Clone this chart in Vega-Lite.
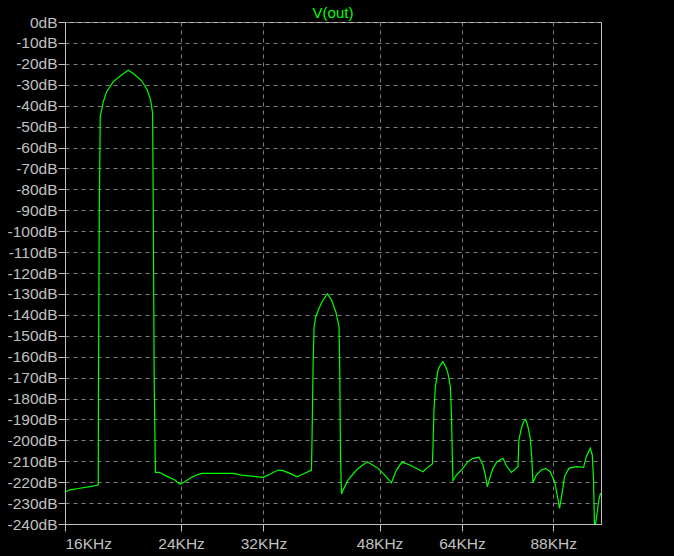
{
  "$schema": "https://vega.github.io/schema/vega-lite/v6.json",
  "width": 536,
  "height": 502,
  "autosize": {"type": "none"},
  "padding": {"left": 65, "top": 22, "right": 73, "bottom": 32},
  "background": "#000000",
  "title": {"text": "V(out)", "color": "#00ff00", "fontSize": 15, "font": "Liberation Sans", "fontWeight": "normal", "anchor": "middle", "frame": "group", "offset": 3, "dy": 9},
  "config": {
    "view": {"stroke": "#c0c0c0", "strokeWidth": 1},
    "axis": {
      "domainColor": "#c0c0c0",
      "tickColor": "#c0c0c0",
      "tickSize": 7,
      "labelColor": "#c0c0c0",
      "labelFont": "Liberation Sans",
      "labelFontSize": 15.5,
      "gridColor": "#808080",
      "gridDash": [4, 4],
      "gridWidth": 1,
      "title": null
    }
  },
  "data": {"values": [
    {"f": 16000, "db": -224.6}, {"f": 16282, "db": -223.7}, {"f": 16860, "db": -222.9}, {"f": 17458, "db": -222.1},
    {"f": 17971, "db": -221.4}, {"f": 17984, "db": -177.4}, {"f": 18034, "db": -90.4}, {"f": 18097, "db": -44.8},
    {"f": 18186, "db": -42.1}, {"f": 18288, "db": -38.1}, {"f": 18506, "db": -33.3}, {"f": 18937, "db": -28.5},
    {"f": 19500, "db": -25.3}, {"f": 19955, "db": -23.1}, {"f": 20355, "db": -24.9}, {"f": 20910, "db": -28.1},
    {"f": 21322, "db": -32.5}, {"f": 21577, "db": -37.3}, {"f": 21728, "db": -43.7}, {"f": 21773, "db": -87.5},
    {"f": 21849, "db": -172.7}, {"f": 21941, "db": -215.3}, {"f": 22234, "db": -215.3}, {"f": 22816, "db": -217.1},
    {"f": 23486, "db": -219.0}, {"f": 23900, "db": -221.0}, {"f": 24320, "db": -219.8}, {"f": 24895, "db": -217.7},
    {"f": 25334, "db": -216.6}, {"f": 25779, "db": -215.8}, {"f": 28784, "db": -215.8}, {"f": 29640, "db": -216.6},
    {"f": 30692, "db": -217.1}, {"f": 31960, "db": -217.7}, {"f": 32716, "db": -216.2}, {"f": 33678, "db": -214.2},
    {"f": 34271, "db": -214.5}, {"f": 35082, "db": -215.8}, {"f": 35987, "db": -217.4}, {"f": 36748, "db": -216.1},
    {"f": 37841, "db": -214.2}, {"f": 37920, "db": -197.5}, {"f": 38052, "db": -164.0}, {"f": 38185, "db": -145.7},
    {"f": 38413, "db": -140.9}, {"f": 38858, "db": -136.9}, {"f": 39404, "db": -132.9}, {"f": 40013, "db": -130.0},
    {"f": 40576, "db": -132.9}, {"f": 41189, "db": -138.5}, {"f": 41666, "db": -145.7}, {"f": 41768, "db": -167.2},
    {"f": 41870, "db": -206.1}, {"f": 42017, "db": -225.7}, {"f": 42252, "db": -223.8}, {"f": 42996, "db": -219.0},
    {"f": 44274, "db": -214.2}, {"f": 45941, "db": -210.2}, {"f": 47740, "db": -213.4}, {"f": 48869, "db": -216.6},
    {"f": 50025, "db": -220.3}, {"f": 50905, "db": -214.2}, {"f": 51909, "db": -210.4}, {"f": 53323, "db": -211.8},
    {"f": 55217, "db": -214.2}, {"f": 55856, "db": -215.0}, {"f": 56523, "db": -213.4}, {"f": 57718, "db": -211.3},
    {"f": 57840, "db": -203.0}, {"f": 58042, "db": -185.5}, {"f": 58326, "db": -174.4}, {"f": 58857, "db": -166.4},
    {"f": 59353, "db": -164.0}, {"f": 59893, "db": -162.4}, {"f": 60460, "db": -164.8}, {"f": 60947, "db": -168.0},
    {"f": 61460, "db": -174.4}, {"f": 61675, "db": -187.1}, {"f": 61891, "db": -208.6}, {"f": 62020, "db": -219.3},
    {"f": 62760, "db": -216.6}, {"f": 63865, "db": -214.2}, {"f": 65353, "db": -210.2}, {"f": 66503, "db": -208.6},
    {"f": 67910, "db": -208.1}, {"f": 68864, "db": -211.8}, {"f": 69516, "db": -217.4}, {"f": 69930, "db": -222.2},
    {"f": 70493, "db": -218.2}, {"f": 71309, "db": -213.4}, {"f": 72311, "db": -210.2}, {"f": 73841, "db": -208.6},
    {"f": 74880, "db": -212.6}, {"f": 76038, "db": -215.3}, {"f": 77809, "db": -212.6}, {"f": 78081, "db": -199.8},
    {"f": 78738, "db": -194.3}, {"f": 79372, "db": -191.1}, {"f": 79928, "db": -190.0}, {"f": 80572, "db": -193.5},
    {"f": 81249, "db": -199.0}, {"f": 81705, "db": -209.4}, {"f": 81990, "db": -220.3}, {"f": 82969, "db": -216.6},
    {"f": 84428, "db": -214.2}, {"f": 85705, "db": -213.4}, {"f": 87123, "db": -215.0}, {"f": 88439, "db": -219.8},
    {"f": 89152, "db": -225.3}, {"f": 89996, "db": -232.5}, {"f": 90848, "db": -224.6}, {"f": 91579, "db": -217.4},
    {"f": 92964, "db": -213.4}, {"f": 95396, "db": -212.6}, {"f": 97857, "db": -212.9}, {"f": 98783, "db": -207.8},
    {"f": 100172, "db": -203.8}, {"f": 100872, "db": -207.0}, {"f": 101331, "db": -219.0}, {"f": 101686, "db": -242.9},
    {"f": 102504, "db": -235.7}, {"f": 103222, "db": -228.5}, {"f": 103836, "db": -225.3}
  ]},
  "mark": {"type": "line", "color": "#00ff00", "strokeWidth": 1.2, "clip": true},
  "encoding": {
    "x": {
      "field": "f", "type": "quantitative",
      "scale": {"type": "log", "domain": [16000, 104000], "nice": false, "zero": false},
      "axis": {
        "values": [16000, 24000, 32000, 48000, 64000, 88000],
        "labelExpr": "(datum.value / 1000) + 'KHz'",
        "grid": true,
        "labelPadding": 5
      }
    },
    "y": {
      "field": "db", "type": "quantitative",
      "scale": {"domain": [-240, 0], "nice": false, "zero": false},
      "axis": {
        "values": [-240, -230, -220, -210, -200, -190, -180, -170, -160, -150, -140, -130, -120, -110, -100, -90, -80, -70, -60, -50, -40, -30, -20, -10, 0],
        "labelExpr": "datum.value + 'dB'",
        "grid": true,
        "labelPadding": 1,
        "labelBaseline": "middle"
      }
    }
  }
}
